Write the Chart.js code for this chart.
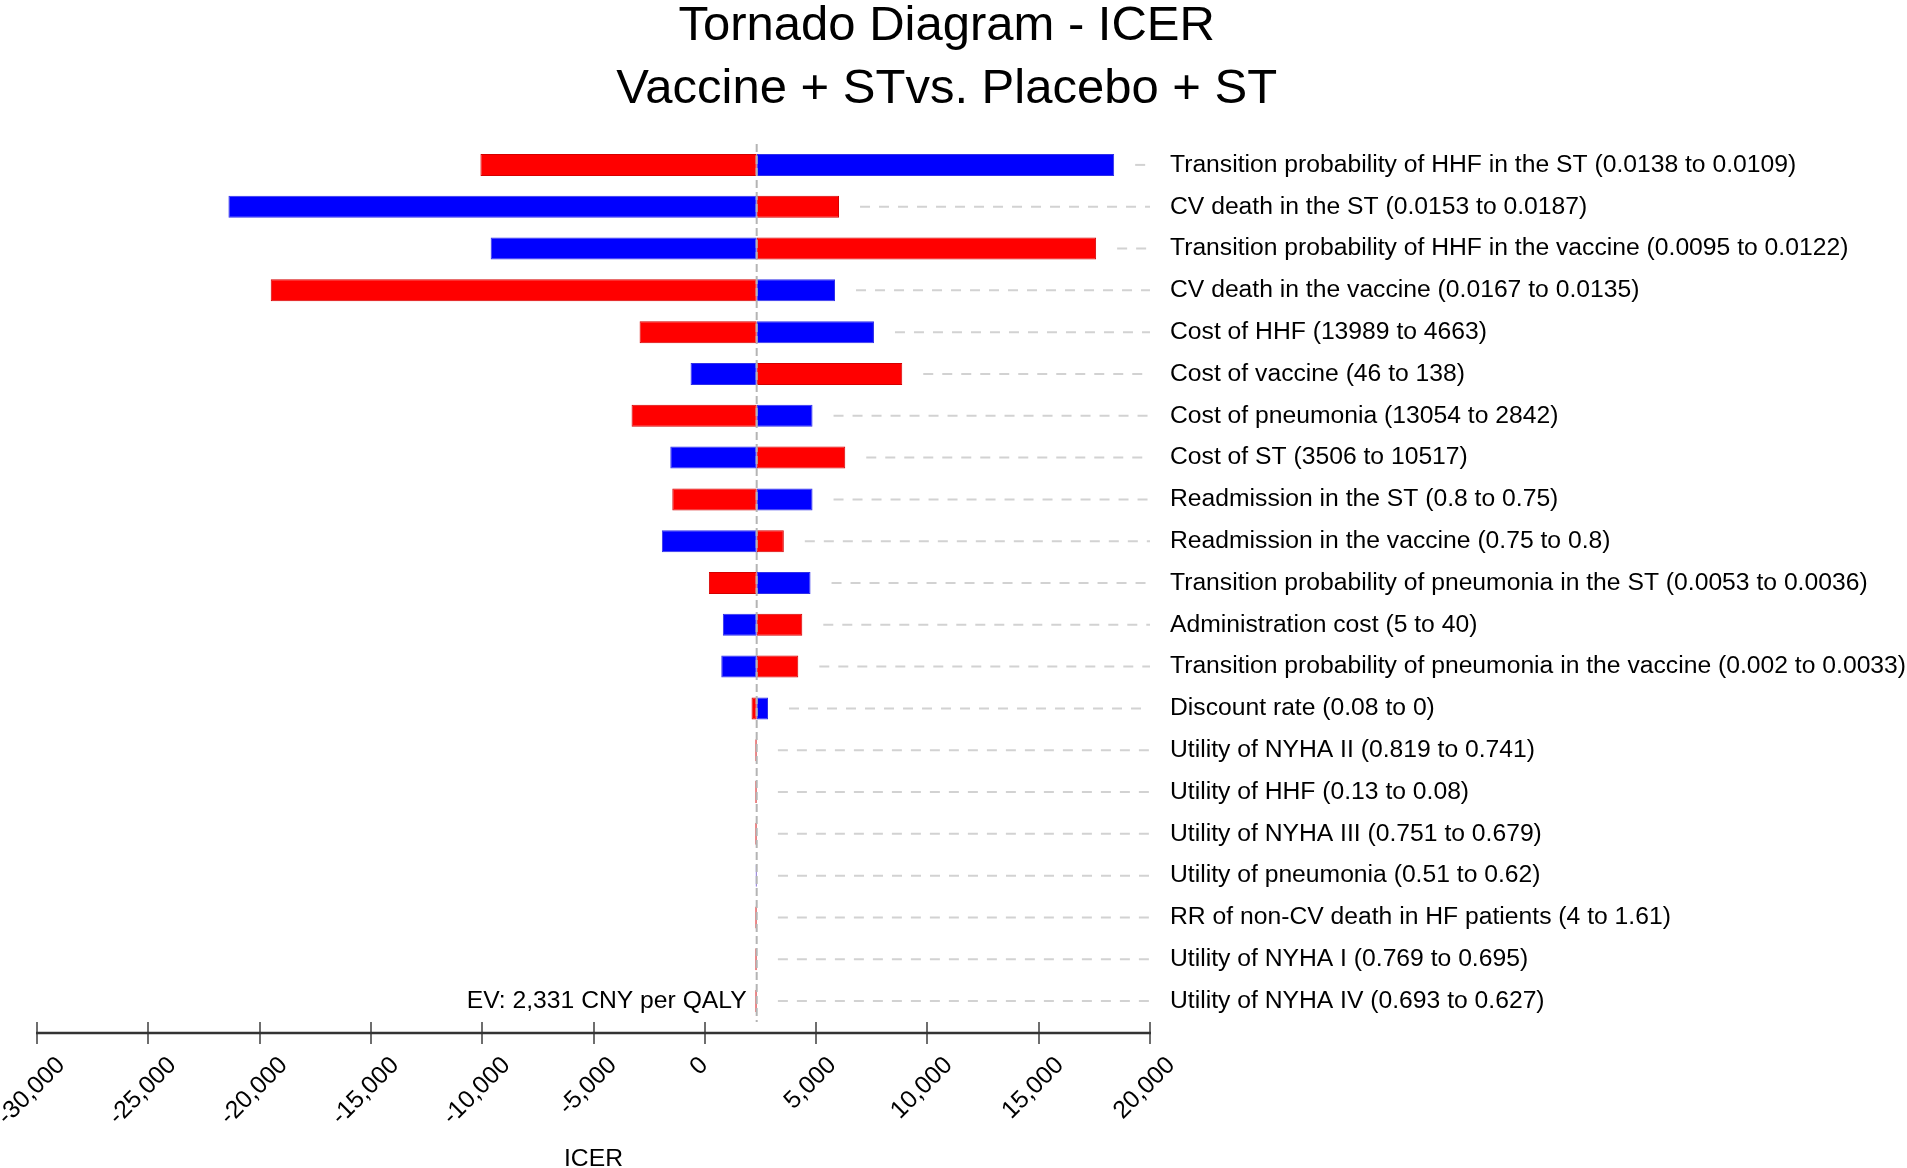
<!DOCTYPE html>
<html>
<head>
<meta charset="utf-8">
<script src="https://cdn.jsdelivr.net/npm/chart.js@4.4.1/dist/chart.umd.min.js"></script>
<style>
  html, body { margin: 0; padding: 0; background: #ffffff; }
  #wrap { width: 1907px; height: 1168px; position: relative; }
</style>
</head>
<body>
<div id="wrap"><canvas id="c"></canvas></div>
<script>
// ---------- data ----------
const titleLine1 = 'Tornado Diagram - ICER';
const titleLine2 = 'Vaccine + STvs. Placebo + ST';
const axisTitle = 'ICER';
const expectedValue = 2331;
const evLabel = 'EV: 2,331 CNY per QALY';

const rowLabels = [
  'Transition probability of HHF in the ST (0.0138 to 0.0109)',
  'CV death in the ST (0.0153 to 0.0187)',
  'Transition probability of HHF in the vaccine (0.0095 to 0.0122)',
  'CV death in the vaccine (0.0167 to 0.0135)',
  'Cost of HHF (13989 to 4663)',
  'Cost of vaccine (46 to 138)',
  'Cost of pneumonia (13054 to 2842)',
  'Cost of ST (3506 to 10517)',
  'Readmission in the ST (0.8 to 0.75)',
  'Readmission in the vaccine (0.75 to 0.8)',
  'Transition probability of pneumonia in the ST (0.0053 to 0.0036)',
  'Administration cost (5 to 40)',
  'Transition probability of pneumonia in the vaccine (0.002 to 0.0033)',
  'Discount rate (0.08 to 0)',
  'Utility of NYHA II (0.819 to 0.741)',
  'Utility of HHF (0.13 to 0.08)',
  'Utility of NYHA III (0.751 to 0.679)',
  'Utility of pneumonia (0.51 to 0.62)',
  'RR of non-CV death in HF patients (4 to 1.61)',
  'Utility of NYHA I (0.769 to 0.695)',
  'Utility of NYHA IV (0.693 to 0.627)'
];

// ICER obtained at each end of the parameter range (red bar / blue bar)
const redICER = [
  -10080, 6030, 17580, -19500, -2930, 8870, -3290, 6310, -1460, 3550,
  184, 4380, 4200, 2100, 2270, 2270, 2270, 2345, 2270, 2270, 2270
];
const blueICER = [
  18390, -21400, -9620, 5850, 7600, -640, 4840, -1550, 4840, -1930,
  4750, 810, 740, 2840, 2340, 2340, 2340, 2285, 2340, 2340, 2340
];

const xTickMin = -30000;
const xTickMax = 20000;
const xTickStep = 5000;

// ---------- chart ----------
const FONT = "'Liberation Sans', Arial, Helvetica, sans-serif";
const SMALL = 24.7;
const BIG = 49;
const RED = '#ff0000';
const BLUE = '#0000ff';

const tornadoGuides = {
  id: 'tornadoGuides',
  beforeDraw(chart) {
    // place rotated tick labels so that each label's box is centred under its tick
    const xs = chart.scales.x;
    const ctx = chart.ctx;
    const items = xs.getLabelItems();
    ctx.save();
    items.forEach(it => {
      if (it._adj) return;
      ctx.font = it.font.string;
      const w = ctx.measureText(String(it.label)).width;
      it.options.translation[0] += -5.5 + 0.354 * w;
      it._adj = true;
    });
    ctx.restore();
  },
  beforeDatasetsDraw(chart) {
    const {ctx, chartArea} = chart;
    const xs = chart.scales.x, ys = chart.scales.y;
    ctx.save();
    ctx.strokeStyle = '#d2d2d2';
    ctx.lineWidth = 2;
    ctx.setLineDash([10, 9]);
    rowLabels.forEach((lab, i) => {
      const yy = ys.getPixelForValue(i);
      const end = Math.max(xs.getPixelForValue(redICER[i]), xs.getPixelForValue(blueICER[i]), xs.getPixelForValue(expectedValue));
      const start = end + 21;
      if (start < chartArea.right) {
        ctx.beginPath();
        ctx.moveTo(start, yy);
        ctx.lineTo(chartArea.right, yy);
        ctx.stroke();
      }
    });
    ctx.restore();
  },
  afterDatasetsDraw(chart) {
    const {ctx, chartArea} = chart;
    const xs = chart.scales.x, ys = chart.scales.y;
    const ex = xs.getPixelForValue(expectedValue);
    ctx.save();
    // EV line
    ctx.strokeStyle = '#b4b4b4';
    ctx.lineWidth = 2;
    ctx.setLineDash([8, 4]);
    ctx.beginPath();
    ctx.moveTo(ex, chartArea.top);
    ctx.lineTo(ex, chartArea.bottom);
    ctx.stroke();
    ctx.setLineDash([]);
    // EV label
    ctx.fillStyle = '#000';
    ctx.font = SMALL + 'px ' + FONT;
    ctx.textAlign = 'right';
    ctx.textBaseline = 'middle';
    ctx.fillText(evLabel, ex - 10, ys.getPixelForValue(rowLabels.length - 1));
    ctx.restore();
  },
  afterDraw(chart) {
    const {ctx, chartArea} = chart;
    const xs = chart.scales.x;
    ctx.save();
    ctx.strokeStyle = '#333333';
    ctx.lineWidth = 2.5;
    const ay = chartArea.bottom + 11;
    ctx.beginPath();
    ctx.moveTo(xs.getPixelForValue(xTickMin) - 1, ay);
    ctx.lineTo(xs.getPixelForValue(xTickMax) + 1, ay);
    ctx.stroke();
    ctx.restore();
  }
};

new Chart(document.getElementById('c'), {
  type: 'bar',
  data: {
    labels: rowLabels,
    datasets: [
      {
        label: 'Red',
        data: redICER.map(v => [expectedValue, v]),
        backgroundColor: RED,
        borderColor: '#d40000',
        borderWidth: 1,
        borderSkipped: false,
        grouped: false,
        barPercentage: 0.526,
        categoryPercentage: 1
      },
      {
        label: 'Blue',
        data: blueICER.map(v => [expectedValue, v]),
        backgroundColor: BLUE,
        borderColor: '#3030e8',
        borderWidth: 1,
        borderSkipped: false,
        grouped: false,
        barPercentage: 0.526,
        categoryPercentage: 1
      }
    ]
  },
  options: {
    indexAxis: 'y',
    responsive: true,
    maintainAspectRatio: false,
    animation: false,
    devicePixelRatio: 1,
    layout: { padding: { left: 0, right: 0, top: 2, bottom: 0 } },
    plugins: {
      legend: { display: false },
      tooltip: { enabled: false },
      title: {
        display: true,
        text: titleLine1 + ' ',
        color: '#000',
        font: { family: FONT, size: BIG, weight: 'normal', lineHeight: 1 },
        padding: { top: 0, bottom: 14 }
      },
      subtitle: {
        display: true,
        text: titleLine2 + ' ',
        color: '#000',
        font: { family: FONT, size: BIG, weight: 'normal', lineHeight: 1 },
        padding: { top: 0, bottom: 30 }
      }
    },
    scales: {
      x: {
        type: 'linear',
        min: xTickMin,
        max: xTickMax,
        border: { display: false },
        grid: {
          drawOnChartArea: false,
          drawTicks: true,
          tickLength: 22,
          color: '#6e6e6e',
          lineWidth: 2
        },
        ticks: {
          stepSize: xTickStep,
          autoSkip: false,
          minRotation: 45,
          maxRotation: 45,
          padding: 7,
          color: '#000',
          font: { family: FONT, size: SMALL },
          callback: v => Number(v).toLocaleString('en-US')
        },
        title: {
          display: true,
          text: axisTitle,
          color: '#000',
          font: { family: FONT, size: SMALL, lineHeight: 0.75 },
          padding: { top: 0, bottom: 0 }
        },
        afterFit(scale) {
          scale.paddingLeft = 37;
          scale.paddingRight = 0;
          scale.height = 146;
        }
      },
      y: {
        type: 'category',
        position: 'right',
        offset: true,
        border: { display: false },
        grid: { display: false, drawTicks: false },
        ticks: {
          padding: 20,
          color: '#000',
          font: { family: FONT, size: SMALL },
          autoSkip: false
        },
        afterFit(scale) {
          scale.width = 757;
          scale.paddingTop = 0;
          scale.paddingBottom = 0;
        }
      }
    }
  },
  plugins: [tornadoGuides]
});
</script>
</body>
</html>
